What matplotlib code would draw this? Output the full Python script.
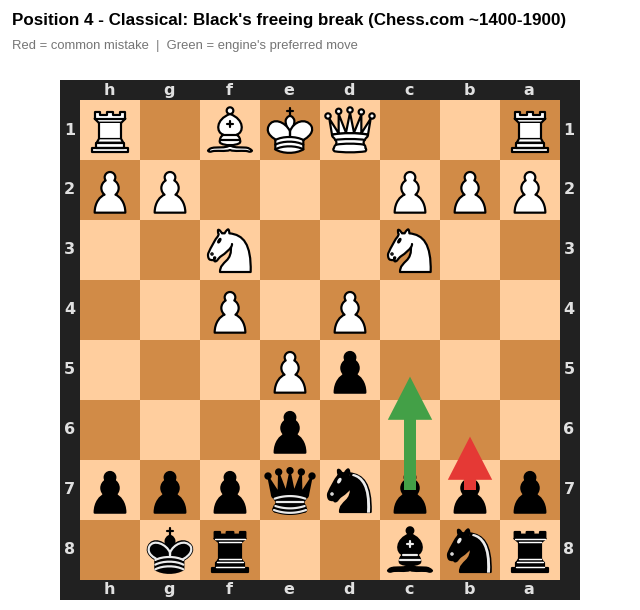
import math
import re
import matplotlib
matplotlib.use("Agg")
import matplotlib.pyplot as plt
from matplotlib.patches import PathPatch, Rectangle
from matplotlib.path import Path
from matplotlib.transforms import Affine2D

# Board, left to right and top to bottom as drawn (Black's side view)
files = ["h", "g", "f", "e", "d", "c", "b", "a"]
ranks = ["1", "2", "3", "4", "5", "6", "7", "8"]
rank_1 = ["R", ".", "B", "K", "Q", ".", ".", "R"]
rank_2 = ["P", "P", ".", ".", ".", "P", "P", "P"]
rank_3 = [".", ".", "N", ".", ".", "N", ".", "."]
rank_4 = [".", ".", "P", ".", "P", ".", ".", "."]
rank_5 = [".", ".", ".", "P", "p", ".", ".", "."]
rank_6 = [".", ".", ".", "p", ".", ".", ".", "."]
rank_7 = ["p", "p", "p", "q", "n", "p", "p", "p"]
rank_8 = [".", "k", "r", ".", ".", "b", "n", "r"]
position = [rank_1, rank_2, rank_3, rank_4, rank_5, rank_6, rank_7, rank_8]

# (file, from rank, to rank)
mistake_move = ("b", "7", "6")
engine_move = ("c", "7", "5")

light = "#FFCE9E"
dark = "#D18B47"
border = "#212121"
label_col = "#E0E0E0"
hi = "#ECECEC"

# Piece outlines on a 45x45 grid: (svg path, fill, stroke, stroke width)
PAWN = "M22.5 9c-2.21 0-4 1.79-4 4 0 .89.29 1.71.78 2.38C17.33 16.5 16 18.59 16 21c0 2.03.94 3.84 2.41 5.03-3 1.06-7.41 5.55-7.41 13.47h23c0-7.92-4.41-12.41-7.41-13.47 1.47-1.19 2.41-3 2.41-5.03 0-2.41-1.33-4.5-3.28-5.62.49-.67.78-1.49.78-2.38 0-2.21-1.79-4-4-4z"
KNIGHT_BODY = "M22 10c10.5 1 16.5 8 16 29H15c0-9 10-6.5 8-21"
KNIGHT_HEAD = "M24 18c.38 2.91-5.55 7.37-8 9-3 2-2.82 4.34-5 4-1.042-.94 1.41-3.04 0-3-1 0 .19 1.23-1 2-1 0-4.003 1-4-4 0-2 6-12 6-12s1.89-1.9 2-3.5c-.73-.994-.5-2-.5-3 1-1 3 2.5 3 2.5h2s.78-1.992 2.5-3c1 0 1 3 1 3"
KNIGHT_EYES = "M9.5 25.5a.5.5 0 1 1-1 0 .5.5 0 1 1 1 0zm5.433-9.75a.5 1.5 30 1 1-.866-.5.5 1.5 30 1 1 .866.5z"
KNIGHT_MANE = "M24.55 10.4l-.45 1.45.5.15c3.15 1 5.65 2.49 7.9 6.75S35.75 29.06 35.25 39l-.05.5h2.25l.05-.5c.5-10.06-.88-16.85-3.25-21.34-2.37-4.49-5.79-6.64-9.19-7.16l-.51-.1z"
BISHOP_BASE = "M9 36c3.39-.97 10.11.43 13.5-2 3.39 2.43 10.11 1.03 13.5 2 0 0 1.65.54 3 2-.68.97-1.65.99-3 .5-3.39-.97-10.11.46-13.5-1-3.39 1.46-10.11.03-13.5 1-1.354.49-2.323.47-3-.5 1.354-1.94 3-2 3-2z"
BISHOP_BODY = "M15 32c2.5 2.5 12.5 2.5 15 0 .5-1.5 0-2 0-2 0-2.5-2.5-4-2.5-4 5.5-1.5 6-11.5-5-15.5-11 4-10.5 14-5 15.5 0 0-2.5 1.5-2.5 4 0 0-.5.5 0 2z"
BISHOP_TOP = "M25 8a2.5 2.5 0 1 1-5 0 2.5 2.5 0 1 1 5 0z"
BISHOP_CROSS = "M17.5 26h10M15 30h15m-7.5-14.5v5M20 18h5"
QUEEN_SKIRT = "M9 26c0 2 1.5 2 2.5 4 1 1.5 1 1 .5 3.5-1.5 1-1.5 2.5-1.5 2.5-1.5 1.5.5 2.5.5 2.5 6.5 1 16.5 1 23 0 0 0 1.5-1 0-2.5 0 0 .5-1.5-1-2.5-.5-2.5-.5-2 .5-3.5 1-2 2.5-2 2.5-4-8.5-1.5-18.5-1.5-27 0z"
KING_MID = "M22.5 25s4.5-7.5 3-10.5c0 0-1-2.5-3-2.5s-3 2.5-3 2.5c-1.5 3 3 10.5 3 10.5"
KING_BODY = "M11.5 37c5.5 3.5 15.5 3.5 21 0v-7s9-4.5 6-10.5c-4-6.5-13.5-3.5-16 4V27v-3.5c-3.5-7.5-13-10.5-16-4-3 6 5 10 5 10V37z"
KING_BANDS = "M11.5 30c5.5-3 15.5-3 21 0m-21 3.5c5.5-3 15.5-3 21 0m-21 3.5c5.5-3 15.5-3 21 0"

pieces = {
    "P": [(PAWN, "#fff", "#000", 1.5)],
    "p": [(PAWN, "#000", "#000", 1.5)],
    "R": [("M9 39h27v-3H9v3zM12 36v-4h21v4H12zM11 14V9h4v2h5V9h5v2h5V9h4v5", "#fff", "#000", 1.5),
          ("M34 14l-3 3H14l-3-3", "#fff", "#000", 1.5),
          ("M31 17v12.5H14V17", "#fff", "#000", 1.5),
          ("M31 29.5l1.5 2.5h-20l1.5-2.5", "#fff", "#000", 1.5),
          ("M11 14h23", "none", "#000", 1.5)],
    "r": [("M9 39h27v-3H9v3zM12.5 32l1.5-2.5h17l1.5 2.5h-20zM12 36v-4h21v4H12z", "#000", "#000", 1.5),
          ("M14 29.5v-13h17v13H14z", "#000", "#000", 1.5),
          ("M14 16.5L11 14h23l-3 2.5H14zM11 14V9h4v2h5V9h5v2h5V9h4v5H11z", "#000", "#000", 1.5),
          ("M12 35.5h21M13 31.5h19M14 29.5h17M14 16.5h17M11 14h23", "none", "#fff", 1.0)],
    "N": [(KNIGHT_BODY, "#fff", "#000", 1.5),
          (KNIGHT_HEAD, "#fff", "#000", 1.5),
          (KNIGHT_EYES, "#000", "#000", 1.5)],
    "n": [(KNIGHT_BODY, "#000", "#000", 1.5),
          (KNIGHT_HEAD, "#000", "#000", 1.5),
          (KNIGHT_EYES, hi, hi, 1.5),
          (KNIGHT_MANE, hi, "none", 0)],
    "B": [(BISHOP_BASE, "#fff", "#000", 1.5),
          (BISHOP_BODY, "#fff", "#000", 1.5),
          (BISHOP_TOP, "#fff", "#000", 1.5),
          (BISHOP_CROSS, "none", "#000", 1.5)],
    "b": [(BISHOP_BASE, "#000", "#000", 1.5),
          (BISHOP_BODY, "#000", "#000", 1.5),
          (BISHOP_TOP, "#000", "#000", 1.5),
          (BISHOP_CROSS, "none", hi, 1.5)],
    "Q": [("M8 12a2 2 0 1 1-4 0 2 2 0 1 1 4 0zM24.5 7.5a2 2 0 1 1-4 0 2 2 0 1 1 4 0zM41 12a2 2 0 1 1-4 0 2 2 0 1 1 4 0zM16 8.5a2 2 0 1 1-4 0 2 2 0 1 1 4 0zM33 9a2 2 0 1 1-4 0 2 2 0 1 1 4 0z", "#fff", "#000", 1.5),
          ("M9 26c8.5-1.5 21-1.5 27 0l2-12-7 11V11l-5.5 13.5-3-15-3 15-5.5-14V25L7 14l2 12z", "#fff", "#000", 1.5),
          (QUEEN_SKIRT, "#fff", "#000", 1.5),
          ("M11.5 30c3.5-1 18.5-1 22 0M12 33.5c6-1 15-1 21 0", "none", "#000", 1.5)],
    "q": [("M8.75 12a2.75 2.75 0 1 1-5.5 0 2.75 2.75 0 1 1 5.5 0zM16.75 9a2.75 2.75 0 1 1-5.5 0 2.75 2.75 0 1 1 5.5 0zM25.25 8a2.75 2.75 0 1 1-5.5 0 2.75 2.75 0 1 1 5.5 0zM33.75 9a2.75 2.75 0 1 1-5.5 0 2.75 2.75 0 1 1 5.5 0zM41.75 12a2.75 2.75 0 1 1-5.5 0 2.75 2.75 0 1 1 5.5 0z", "#000", "none", 0),
          ("M9 26c8.5-1.5 21-1.5 27 0l2.5-12.5L31 25l-.3-14.1-5.2 13.6-3-14.5-3 14.5-5.2-13.6L14 25 6.5 13.5 9 26z", "#000", "#000", 1.5),
          (QUEEN_SKIRT, "#000", "#000", 1.5),
          ("M11 38.5a35 35 1 0 0 23 0", "none", "#000", 1.5),
          ("M11 29a35 35 1 0 1 23 0M12.5 31.5h20M11.5 34.5a35 35 1 0 0 22 0M10.5 37.5a35 35 1 0 0 24 0", "none", hi, 1.5)],
    "K": [("M22.5 11.63V6M20 8h5", "none", "#000", 1.5),
          (KING_MID, "#fff", "#000", 1.5),
          (KING_BODY, "#fff", "#000", 1.5),
          (KING_BANDS, "none", "#000", 1.5)],
    "k": [("M22.5 11.63V6M20 8h5", "none", "#000", 1.5),
          (KING_MID, "#000", "#000", 1.5),
          (KING_BODY, "#000", "#000", 1.5),
          ("M32 29.5s8.5-4 6.03-9.65C34.15 14 25 18 22.5 24.5l.01 2.1-.01-2.1C20 18 9.906 14 6.997 19.85c-2.497 5.65 4.853 9 4.853 9", "none", hi, 1.5),
          (KING_BANDS, "none", hi, 1.5)],
}


def arc_points(x0, y0, rx, ry, phi, large, sweep, x1, y1):
    # svg endpoint arc to a run of points
    p = math.radians(phi)
    dx, dy = (x0 - x1) / 2, (y0 - y1) / 2
    xp = math.cos(p) * dx + math.sin(p) * dy
    yp = -math.sin(p) * dx + math.cos(p) * dy
    k = xp ** 2 / rx ** 2 + yp ** 2 / ry ** 2
    if k > 1:
        rx *= math.sqrt(k)
        ry *= math.sqrt(k)
    num = rx ** 2 * ry ** 2 - rx ** 2 * yp ** 2 - ry ** 2 * xp ** 2
    den = rx ** 2 * yp ** 2 + ry ** 2 * xp ** 2
    s = math.sqrt(max(0, num / den))
    if large == sweep:
        s = -s
    cxp, cyp = s * rx * yp / ry, -s * ry * xp / rx
    cx = math.cos(p) * cxp - math.sin(p) * cyp + (x0 + x1) / 2
    cy = math.sin(p) * cxp + math.cos(p) * cyp + (y0 + y1) / 2
    t0 = math.atan2((yp - cyp) / ry, (xp - cxp) / rx)
    t1 = math.atan2((-yp - cyp) / ry, (-xp - cxp) / rx)
    if sweep and t1 < t0:
        t1 += 2 * math.pi
    if not sweep and t1 > t0:
        t1 -= 2 * math.pi
    pts = []
    for i in range(1, 25):
        t = t0 + (t1 - t0) * i / 24
        ex, ey = rx * math.cos(t), ry * math.sin(t)
        pts.append((cx + math.cos(p) * ex - math.sin(p) * ey, cy + math.sin(p) * ex + math.cos(p) * ey))
    return pts


def svg_path(d):
    verts, codes = [], []
    x = y = sx = sy = 0.0
    ctrl = None
    for cmd, args in re.findall(r"([MmLlHhVvCcSsAaZz])([^MmLlHhVvCcSsAaZz]*)", d):
        nums = [float(n) for n in re.findall(r"[-+]?(?:\d*\.\d+|\d+)", args)]
        rel = cmd.islower()
        op = cmd.upper()
        if op == "Z":
            verts.append((sx, sy))
            codes.append(Path.CLOSEPOLY)
            x, y = sx, sy
            ctrl = None
            continue
        size = {"M": 2, "L": 2, "H": 1, "V": 1, "C": 6, "S": 4, "A": 7}[op]
        for i in range(0, len(nums), size):
            a = nums[i:i + size]
            ox, oy = (x, y) if rel else (0.0, 0.0)
            if op == "M" and i == 0:
                x, y = a[0] + ox, a[1] + oy
                sx, sy = x, y
                verts.append((x, y))
                codes.append(Path.MOVETO)
                ctrl = None
            elif op in "ML":
                x, y = a[0] + ox, a[1] + oy
                verts.append((x, y))
                codes.append(Path.LINETO)
                ctrl = None
            elif op == "H":
                x = a[0] + ox
                verts.append((x, y))
                codes.append(Path.LINETO)
                ctrl = None
            elif op == "V":
                y = a[0] + oy
                verts.append((x, y))
                codes.append(Path.LINETO)
                ctrl = None
            elif op in "CS":
                if op == "C":
                    c1 = (a[0] + ox, a[1] + oy)
                    c2 = (a[2] + ox, a[3] + oy)
                    end = (a[4] + ox, a[5] + oy)
                else:
                    c1 = (2 * x - ctrl[0], 2 * y - ctrl[1]) if ctrl else (x, y)
                    c2 = (a[0] + ox, a[1] + oy)
                    end = (a[2] + ox, a[3] + oy)
                verts += [c1, c2, end]
                codes += [Path.CURVE4] * 3
                ctrl = c2
                x, y = end
            else:
                ex, ey = a[5] + ox, a[6] + oy
                for pt in arc_points(x, y, a[0], a[1], a[2], a[3] != 0, a[4] != 0, ex, ey):
                    verts.append(pt)
                    codes.append(Path.LINETO)
                x, y = ex, ey
                ctrl = None
    return Path(verts, codes)


def draw_piece(ax, piece, col, row):
    # 45 grid units fill one square
    tr = Affine2D().scale(1 / 45).translate(col, row) + ax.transData
    for d, fill, stroke, sw in pieces[piece]:
        ax.add_patch(PathPatch(svg_path(d), facecolor=fill, edgecolor=stroke, lw=sw * 1.05,
                               capstyle="round", joinstyle="round", transform=tr, zorder=2))


def draw_move(ax, move, color):
    x = files.index(move[0]) + 0.5
    y0 = ranks.index(move[1]) + 0.5
    y1 = ranks.index(move[2]) + 0.5
    # stop a little short of the target square centre
    ax.arrow(x, y0, 0, y1 - y0 + 0.11, width=0.2, head_width=0.74, head_length=0.72,
             length_includes_head=True, color=color, lw=0, zorder=5)


fig = plt.figure(figsize=(6.4, 6.1), dpi=100)
ax = fig.add_axes([60 / 640, 10 / 610, 520 / 640, 520 / 610])
ax.set_xlim(-1 / 3, 8 + 1 / 3)
ax.set_ylim(8 + 1 / 3, -1 / 3)
ax.axis("off")

ax.add_patch(Rectangle((-1 / 3, -1 / 3), 8 + 2 / 3, 8 + 2 / 3, color=border, lw=0, zorder=0))

for r in range(8):
    for c in range(8):
        col = light if (r + c) % 2 == 0 else dark
        ax.add_patch(Rectangle((c, r), 1, 1, color=col, lw=0, zorder=1))
        if position[r][c] != ".":
            draw_piece(ax, position[r][c], c, r)

label_kw = dict(color=label_col, fontsize=11.5, fontweight="bold", ha="center", va="center", family="DejaVu Sans")
for i, f in enumerate(files):
    ax.text(i + 0.485, -1 / 6, f, **label_kw)
    ax.text(i + 0.485, 8 + 1 / 6, f, **label_kw)
for i, rk in enumerate(ranks):
    ax.text(-0.175, i + 0.5, rk, **label_kw)
    ax.text(8 + 0.15, i + 0.5, rk, **label_kw)

draw_move(ax, mistake_move, "#E53935")
draw_move(ax, engine_move, "#43A047")

fig.text(12 / 640, 1 - 20.5 / 610, "Position 4 - Classical: Black's freeing break (Chess.com ~1400-1900)",
         fontsize=12.24, fontweight="bold", family="Liberation Sans", color="black", ha="left", va="center")
fig.text(12 / 640, 1 - 46 / 610, "Red = common mistake  |  Green = engine's preferred move",
         fontsize=9.36, family="Liberation Sans", color="#757575", ha="left", va="center")

fig.savefig("out.png", dpi=100, facecolor="white")
